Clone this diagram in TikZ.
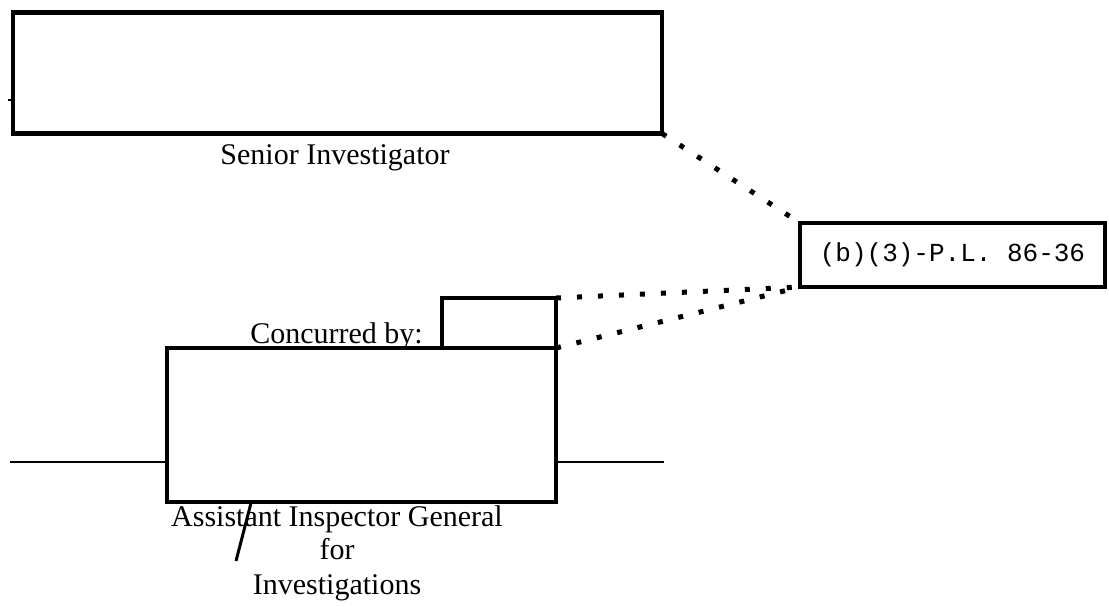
\documentclass[tikz,border=0pt]{standalone}
\usepackage{fontspec}
\setmainfont{Liberation Serif}
\setmonofont{Liberation Mono}
\begin{document}
\begin{tikzpicture}[x=1pt,y=-1pt,
  box/.style={draw,line width=4.5pt,inner sep=0pt,outer sep=0pt},
  lbl/.style={font=\fontsize{30}{34.5}\selectfont,inner sep=0pt,align=center},
  dots/.style={line width=5pt,dash pattern=on 5pt off 16pt,line cap=butt},
  thin/.style={line width=2pt}]
\useasboundingbox (0,0) rectangle (1109,606);
% boxes
\node[box,minimum width=649pt,minimum height=121pt] (top) at (337.5,73) {};
\node[box,minimum width=114pt,minimum height=50pt] (small) at (499,323) {};
\node[box,minimum width=389pt,minimum height=154pt] (big) at (361.5,425) {};
\node[box,minimum width=305pt,minimum height=64pt,font=\ttfamily\fontsize{26}{30}\selectfont] (pl) at (952.5,255) {(b)(3)-P.L. 86-36};
% labels
\node[lbl,anchor=base] (senior) at (335,164) {Senior Investigator};
\node[lbl,anchor=base east] (conc) at (423,343) {Concurred by:};
\node[lbl,anchor=base] (aig1) at (337,526) {Assistant Inspector General};
\node[lbl,anchor=base] (aig2) at (337,559) {for};
\node[lbl,anchor=base] (aig3) at (337,594) {Investigations};
% dotted connectors
\draw[dots] (top.south east) -- (pl.north west);
\draw[dots] (small.north east) -- (pl.south west);
\draw[dots] (small.south east) -- (pl.south west);
% horizontal lines
\coordinate (lineL) at (10,462);
\coordinate (lineR) at (664,462);
\draw[thin] (lineL) -- (lineL -| big.west);
\draw[thin] (lineR -| big.east) -- (lineR);
% slash mark and left tick
\coordinate (s1) at (251,503);
\coordinate (s2) at (236,561);
\draw[line width=3pt] (s1) -- (s2);
\coordinate (t1) at (8,100);
\draw[line width=2pt] (t1) -- (t1 -| top.west);
\end{tikzpicture}
\end{document}
